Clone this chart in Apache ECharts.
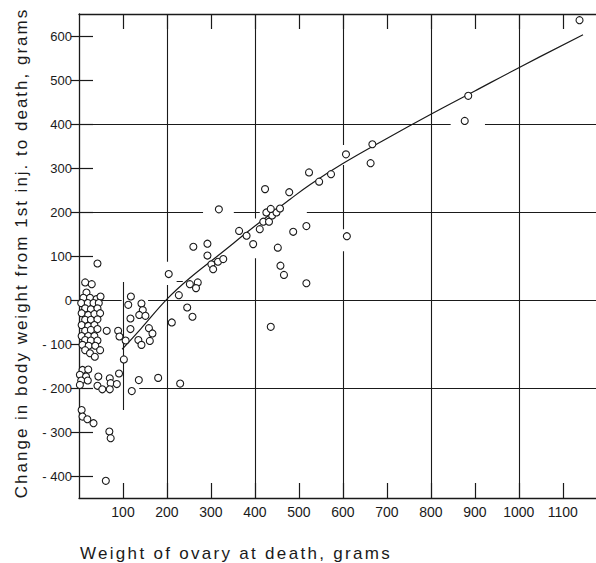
<!DOCTYPE html>
<html>
<head>
<meta charset="utf-8">
<script src="https://cdn.jsdelivr.net/npm/echarts@6/dist/echarts.min.js"></script>
<style>
  html, body { margin: 0; padding: 0; background: #ffffff; }
  #chart { width: 596px; height: 563px; }
</style>
</head>
<body>
<div id="chart"></div>
<script>
// Ovary weight at death (g) and change in body weight (g), one entry per animal
const ovaryWeight = [
  42, 14, 29, 17,
  10, 25, 40, 49,
  5, 20, 33, 45,
  14, 27, 42,
  6, 21, 35, 48,
  14, 27, 42,
  6, 21, 35,
  14, 27, 42,
  6, 21, 35,
  14, 27, 42,
  8, 22, 37,
  14, 25, 36, 48,
  63,
  8, 21, 2, 16, 5, 20, 2,
  44, 42, 53, 70, 72, 70, 86, 91,
  6, 8, 19, 33,
  69, 72, 61,
  89, 92, 106, 102, 120,
  118, 112, 142, 145, 137, 151, 117, 117, 159, 167, 135, 142, 161,
  136, 180, 230,
  204, 227, 246, 258, 211, 252, 270, 266,
  260, 292, 292, 301, 316, 328, 305, 318,
  364, 381, 396, 411, 419, 432, 439, 426, 449, 436, 457, 423, 478,
  452, 458, 466, 436,
  487, 517, 517,
  523, 546, 573, 607, 609, 663, 667,
  877, 885, 1138
];
const weightChange = [
  83, 40, 36, 17,
  5, 5, 2, 8,
  -7, -7, -7, -7,
  -19, -21, -19,
  -30, -34, -32, -30,
  -45, -45, -44,
  -57, -59, -57,
  -70, -68, -66,
  -82, -82, -82,
  -91, -92, -92,
  -102, -104, -104,
  -114, -121, -129, -114,
  -70,
  -159, -158, -170, -174, -183, -183, -193,
  -174, -195, -203, -178, -189, -203, -191, -167,
  -250, -265, -271, -280,
  -299, -314, -411,
  -70, -83, -92, -135, -207,
  8, -11, -8, -23, -34, -36, -42, -66, -64, -76, -91, -102, -93,
  -182, -177, -190,
  59, 11, -17, -38, -51, 36, 40, 27,
  121, 128, 101, 81, 87, 93, 70, 206,
  157, 146, 127, 161, 178, 178, 192, 199, 199, 207, 208, 252, 245,
  119, 78, 57, -61,
  155, 168, 38,
  290, 269, 286, 331, 145, 311, 354,
  407, 464, 636
];

// Fitted trend curve
const fitWeight = [98, 140, 200, 252, 320, 400, 480, 525, 600, 700, 800, 900, 1000, 1146];
const fitChange = [-112, -66, 2, 50, 104, 168, 229, 262, 310, 367, 422, 475, 528, 603];

// Tick values
const xTickValues = [100, 200, 300, 400, 500, 600, 700, 800, 900, 1000, 1100];
const yTickValues = [-400, -300, -200, -100, 0, 100, 200, 300, 400, 500, 600];

const xTitle = 'Weight of ovary at death, grams';
const yTitle = 'Change in body weight from 1st inj. to death, grams';

// Ruled grid, drawn in broken runs: horizontal [y, fromX, toX], vertical [x, fromY, toY]
const hRules = [
  [400, 0, 845], [400, 923, 1180],
  [200, 0, 282], [200, 352, 411], [200, 518, 1180],
  [0, 0, 97], [0, 157, 1180],
  [-200, 137, 1180],
  [42, 222, 236]
];
const vRules = [
  [100, 41, -250],
  [200, 650, 87], [200, 34, -450],
  [400, 650, 185], [400, 95, -450],
  [600, 650, 352], [600, 307, 161], [600, 111, -450],
  [800, 650, -450],
  [1000, 650, -450]
];

const INK = '#1a1a1a';
const FONT = '"Liberation Sans", Arial, Helvetica, sans-serif';

const chart = echarts.init(document.getElementById('chart'), null, { renderer: 'svg' });

const ruleData = hRules.map(r => ({ coords: [[r[1], r[0]], [r[2], r[0]]] }))
  .concat(vRules.map(r => ({ coords: [[r[0], r[1]], [r[0], r[2]]] })));

const option = {
  backgroundColor: '#ffffff',
  animation: false,
  grid: { left: 79, right: -2, top: 14, bottom: 65, containLabel: false, outerBoundsMode: 'none' },
  xAxis: [
    {
      type: 'value', position: 'bottom', min: 0, max: 1180, interval: 100,
      axisLine: { show: true, onZero: false, lineStyle: { color: INK, width: 1.3 } },
      axisTick: { show: true, inside: true, length: 15, customValues: xTickValues, lineStyle: { color: INK, width: 1.2 } },
      axisLabel: {
        show: true, customValues: xTickValues, margin: 7, color: INK, fontSize: 14, fontFamily: FONT,
        formatter: v => String(v)
      },
      splitLine: { show: false }
    },
    {
      type: 'value', position: 'top', min: 0, max: 1180, interval: 100,
      axisLine: { show: true, onZero: false, lineStyle: { color: INK, width: 1.3 } },
      axisTick: { show: true, inside: true, length: 15, customValues: xTickValues, lineStyle: { color: INK, width: 1.2 } },
      axisLabel: { show: false },
      splitLine: { show: false }
    }
  ],
  yAxis: [
    {
      type: 'value', position: 'left', min: -450, max: 650,
      axisLine: { show: true, onZero: false, lineStyle: { color: INK, width: 1.3 } },
      axisTick: { show: true, inside: true, length: 14, customValues: yTickValues, lineStyle: { color: INK, width: 1.2 } },
      axisLabel: {
        show: true, customValues: yTickValues, margin: 7, color: INK, fontSize: 13, fontFamily: FONT,
        formatter: v => (v < 0 ? '- ' + (-v) : String(v))
      },
      splitLine: { show: false }
    },
    {
      type: 'value', position: 'right', min: -450, max: 650,
      axisLine: { show: false },
      axisTick: { show: true, inside: true, length: 8, customValues: yTickValues, lineStyle: { color: INK, width: 1.2 } },
      axisLabel: { show: false },
      splitLine: { show: false }
    }
  ],
  graphic: [
    {
      type: 'text', x: 80, y: 553, silent: true,
      style: { text: xTitle, fill: INK, font: '17px ' + FONT, textAlign: 'left', textVerticalAlign: 'middle' }
    },
    {
      type: 'text', x: 21, y: 253, rotation: Math.PI / 2, silent: true,
      style: { text: yTitle, fill: INK, font: '17px ' + FONT, textAlign: 'center', textVerticalAlign: 'middle' }
    }
  ],
  series: [
    {
      type: 'lines', coordinateSystem: 'cartesian2d', xAxisIndex: 0, yAxisIndex: 0,
      silent: true, z: 1,
      lineStyle: { color: INK, width: 1.1, opacity: 1 },
      data: ruleData
    },
    {
      type: 'line', xAxisIndex: 0, yAxisIndex: 0, z: 2,
      smooth: 0.4, showSymbol: false, silent: true,
      lineStyle: { color: INK, width: 1.2 },
      data: fitWeight.map((x, i) => [x, fitChange[i]])
    },
    {
      type: 'scatter', xAxisIndex: 0, yAxisIndex: 0, z: 3,
      symbol: 'circle', symbolSize: 7,
      itemStyle: { color: '#ffffff', borderColor: INK, borderWidth: 1.1, opacity: 1 },
      data: ovaryWeight.map((x, i) => [x, weightChange[i]])
    }
  ]
};

chart.setOption(option);

// Open up the tracking of the two axis titles
function spaceTitles() {
  chart.getDom().querySelectorAll('text').forEach(t => {
    if (t.textContent === xTitle) t.setAttribute('letter-spacing', '2.3');
    if (t.textContent === yTitle) t.setAttribute('letter-spacing', '2.0');
  });
}
spaceTitles();
chart.on('finished', spaceTitles);
</script>
</body>
</html>
